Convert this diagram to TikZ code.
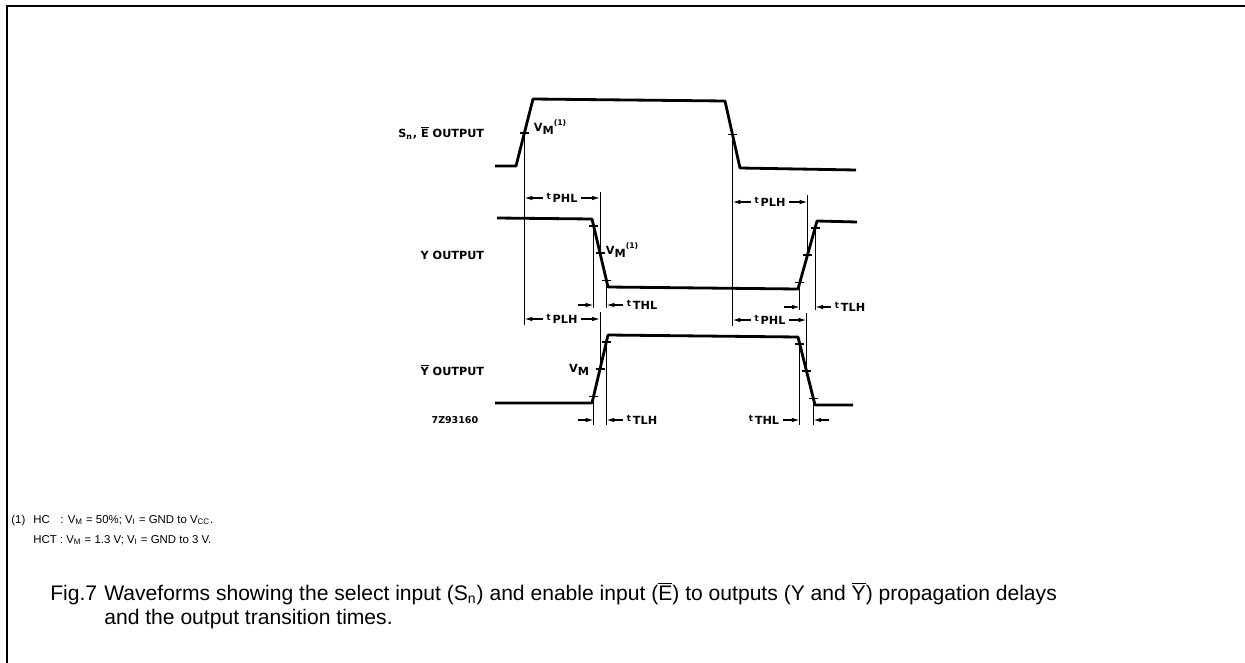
\documentclass[tikz,border=0pt]{standalone}
\usepackage{fontspec}
\setmainfont{Liberation Sans}
\newfontfamily\wavefont{DejaVu Sans}
\usetikzlibrary{arrows.meta,calc}
\tikzset{
  wave/.style={line width=1.6pt, line join=round},
  vline/.style={line width=0.5pt},
  dim/.style={-{Latex[length=4.5pt,width=2.6pt]}, line width=0.7pt},
  vmtick/.style={line width=0.8pt},
  wlabel/.style={font=\wavefont\bfseries\fontsize{6.4}{7.5}\selectfont, inner sep=2pt},
  captext/.style={anchor=base west, inner sep=0pt, font=\fontsize{12}{14}\selectfont},
}
\newcommand{\tlab}[1]{\raisebox{.5ex}{\fontsize{5}{5}\selectfont t}\,#1}
\newcommand{\vm}{V\raisebox{-.4ex}{M}}
\newcommand{\ovl}[1]{$\overline{\mbox{#1}}$}
\begin{document}
\begin{tikzpicture}[x=0.02cm,y=-0.02cm]
\useasboundingbox (0,0) rectangle (1245,663);
\draw[line width=1.2pt] (7,663)--(7,6)--(1245,6);
% waveforms
\draw[wave] (495,166)--(516,166)--(533,99)--(725,101)--(740,168)--(856,170);
\draw[wave] (497,218)--(592,219)--(608,287)--(798,289)--(817,221)--(857,222);
\draw[wave] (495,403)--(592,403)--(608,335)--(798,337)--(815,405)--(853,405);
% V_M points
\coordinate (sr) at (524.4,133);
\coordinate (sf) at (732.5,134.5);
\coordinate (yf1) at (593.6,225.8);
\coordinate (yf2) at (600,253);
\coordinate (yf3) at (606.4,280.2);
\coordinate (yr1) at (799.9,282.2);
\coordinate (yr2) at (807.5,255);
\coordinate (yr3) at (815.1,227.8);
\coordinate (nr1) at (593.6,396.2);
\coordinate (nr2) at (600,369);
\coordinate (nr3) at (606.4,341.8);
\coordinate (nf1) at (799.7,343.8);
\coordinate (nf2) at (806.5,371);
\coordinate (nf3) at (813.3,398.2);
\foreach \p in {sr,sf,yf1,yf2,yf3,yr1,yr2,yr3,nr1,nr2,nr3,nf1,nf2,nf3}
  \draw[vmtick] (\p) ++(-4.5,0) -- ++(9,0);
% reference lines
\draw[vline] (sr)--++(0,192);
\draw[vline] (sf)--++(0,191);
\draw[vline] (yf2)--++(0,-61);
\draw[vline] (yr2)--++(0,-60);
\draw[vline] (yf1)--++(0,82);
\draw[vline] (yf3)--++(0,28);
\draw[vline] (yr1)--++(0,28);
\draw[vline] (yr3)--++(0,82);
\draw[vline] (nr2)--++(0,-57);
\draw[vline] (nf2)--++(0,-58);
\draw[vline] (nr1)--++(0,29);
\draw[vline] (nr3)--++(0,83);
\draw[vline] (nf1)--++(0,81);
\draw[vline] (nf3)--++(0,27);
% labels
\node[wlabel, anchor=east] (sout) at (488,133) {S\textsubscript{n}, \ovl{E} OUTPUT};
\node[wlabel, anchor=east] (yout) at (488,255) {Y OUTPUT};
\node[wlabel, anchor=east] (nout) at (488,370) {\ovl{Y} OUTPUT};
\node[wlabel, anchor=east, font=\wavefont\bfseries\fontsize{5.4}{6}\selectfont] (code) at (482,420) {7Z93160};
\node[wlabel, anchor=west] (vms) at (530,127) {\vm\raisebox{1ex}{\fontsize{4.4}{4}\selectfont(1)}};
\node[wlabel, anchor=west] (vmy) at (602,250) {\vm\raisebox{1ex}{\fontsize{4.4}{4}\selectfont(1)}};
\node[wlabel, anchor=east] (vmn) at (593,370) {\vm};
% delay times
\node[wlabel] (tphlA) at (562,198) {\tlab{PHL}};
\draw[dim] (tphlA.west)--(sr |- tphlA.west);
\draw[dim] (tphlA.east)--(yf2 |- tphlA.east);
\node[wlabel] (tplhA) at (770,202) {\tlab{PLH}};
\draw[dim] (tplhA.west)--(sf |- tplhA.west);
\draw[dim] (tplhA.east)--(yr2 |- tplhA.east);
\node[wlabel] (tplhB) at (562,319) {\tlab{PLH}};
\draw[dim] (tplhB.west)--(sr |- tplhB.west);
\draw[dim] (tplhB.east)--(nr2 |- tplhB.east);
\node[wlabel] (tphlB) at (770,320) {\tlab{PHL}};
\draw[dim] (tphlB.west)--(sf |- tphlB.west);
\draw[dim] (tphlB.east)--(nf2 |- tphlB.east);
% transition times
\node[wlabel, anchor=west] (tthlY) at (623,305) {\tlab{THL}};
\draw[dim] ($(yf1 |- tthlY)+(-16,0)$)--(yf1 |- tthlY);
\draw[dim] (tthlY.west)--(yf3 |- tthlY);
\node[wlabel, anchor=west] (ttlhY) at (831,307) {\tlab{TLH}};
\draw[dim] ($(yr1 |- ttlhY)+(-16,0)$)--(yr1 |- ttlhY);
\draw[dim] (ttlhY.west)--(yr3 |- ttlhY);
\node[wlabel, anchor=west] (ttlhN) at (623,420) {\tlab{TLH}};
\draw[dim] ($(nr1 |- ttlhN)+(-16,0)$)--(nr1 |- ttlhN);
\draw[dim] (ttlhN.west)--(nr3 |- ttlhN);
\node[wlabel, anchor=east] (tthlN) at (783,420) {\tlab{THL}};
\draw[dim] (tthlN.east)--(nf1 |- tthlN);
\draw[dim] ($(nf3 |- tthlN)+(16,0)$)--(nf3 |- tthlN);
% note and caption
\begin{scope}[every node/.style={anchor=base west, inner sep=0pt, font=\fontsize{6.5}{8}\selectfont}]
\node (nt1) at (11,523) {(1)};
\node (nt2) at (33,523) {HC};
\node (nt3) at (60,523) {: V\textsubscript{M} = 50\%; V\textsubscript{I} = GND to V\textsubscript{CC}.};
\node (nt4) at (33,543) {HCT : V\textsubscript{M} = 1.3 V; V\textsubscript{I} = GND to 3 V.};
\end{scope}
\node[captext] (fig) at (50,600) {Fig.7};
\node[captext] (cap1) at (104,600) {Waveforms showing the select input (S\textsubscript{n}) and enable input (\ovl{E}) to outputs (Y and \ovl{Y}) propagation delays};
\node[captext] (cap2) at (104,624) {and the output transition times.};
\end{tikzpicture}
\end{document}
